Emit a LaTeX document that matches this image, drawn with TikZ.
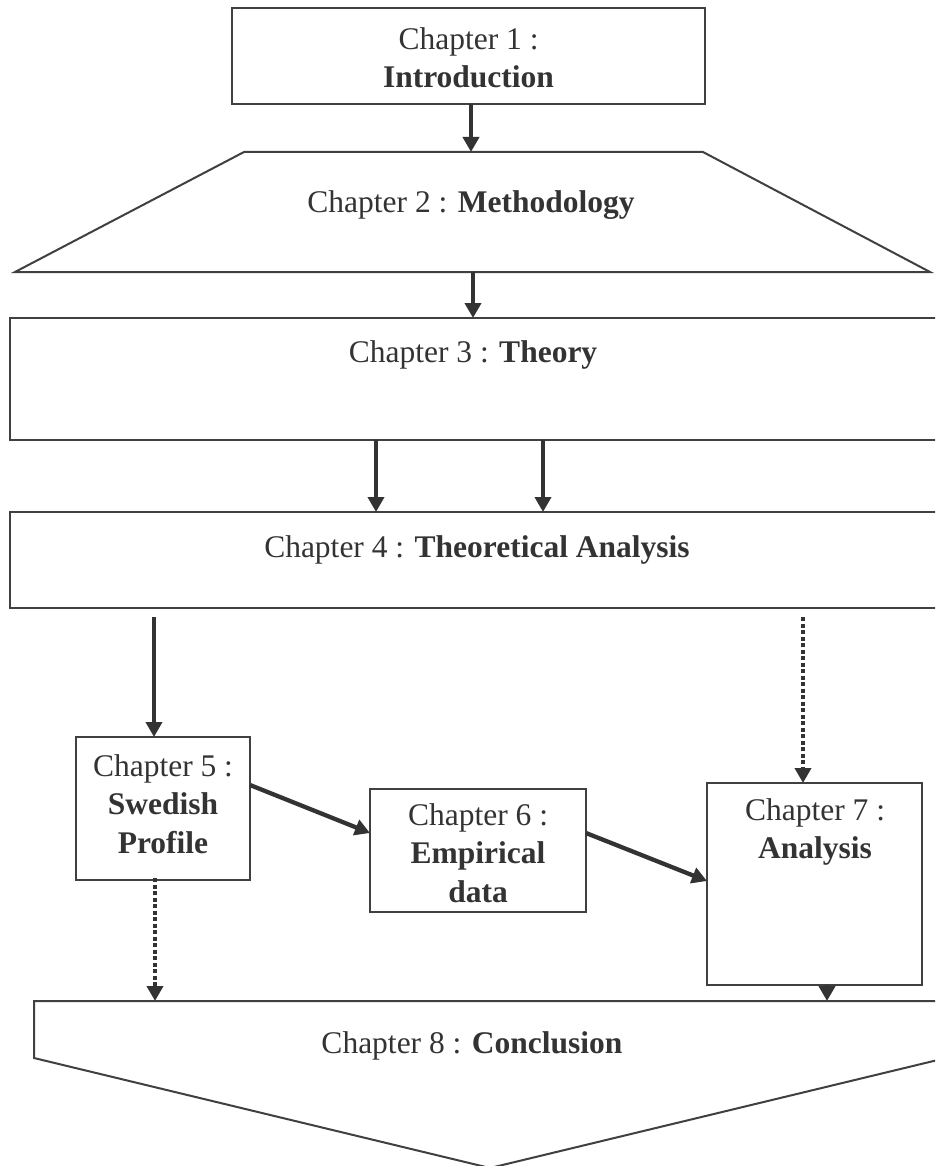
\documentclass[tikz,border=0pt]{standalone}
\usepackage{fontspec}
\setmainfont{Liberation Serif}
\usetikzlibrary{arrows.meta}
\definecolor{linec}{HTML}{404040}
\definecolor{arrc}{HTML}{333333}
\definecolor{txtc}{HTML}{333333}
\begin{document}
\begin{tikzpicture}[x=1pt,y=-1pt,
  box/.style={draw=linec, line width=2pt, inner sep=0pt, outer sep=0pt},
  arr/.style={draw=arrc, line width=4.3pt, -{Triangle[width=16pt,length=15pt]}},
  dotarr/.style={arr, dash pattern=on 4pt off 2.5pt},
  lbl/.style={text=txtc, align=center, inner sep=0pt, font=\fontsize{31.5}{38.5}\selectfont}]
\useasboundingbox (0,0) rectangle (935,1166);
\fill[white] (0,0) rectangle (935,1166);
\clip (0,0) rectangle (935,1166);

% shapes
\node[box, minimum width=473pt, minimum height=96pt] (ch1) at (468.5,56) {};
\coordinate (c2tl) at (244,152);
\coordinate (c2tr) at (703,152);
\coordinate (c2br) at (930,272);
\coordinate (c2bl) at (15,272);
\draw[draw=linec, line width=2pt, line join=miter] (c2tl) -- (c2tr) -- (c2br) -- (c2bl) -- cycle;
\node[box, minimum width=930pt, minimum height=122pt] (ch3) at (475,379) {};
\node[box, minimum width=930pt, minimum height=96pt] (ch4) at (475,560) {};
\node[box, minimum width=174pt, minimum height=143pt] (ch5) at (163,808.5) {};
\node[box, minimum width=216pt, minimum height=123pt] (ch6) at (478,850.5) {};
\node[box, minimum width=215pt, minimum height=202pt] (ch7) at (814.5,884) {};
\coordinate (c8tl) at (34,1001);
\coordinate (c8tr) at (946,1001);
\coordinate (c8r) at (946,1058);
\coordinate (c8b) at (490,1168);
\coordinate (c8l) at (34,1058);
\draw[draw=linec, line width=2pt] (c8tl) -- (c8tr) -- (c8r) -- (c8b) -- (c8l) -- cycle;

% texts
\node[lbl] (t1) at (468.5,58) {Chapter 1 :\\\textbf{Introduction}};
\node[lbl] (t2) at (471,205) {Chapter 2 : \textbf{Methodology}};
\node[lbl] (t3) at (473,355) {Chapter 3 : \textbf{Theory}};
\node[lbl] (t4) at (477,550) {Chapter 4 : \textbf{Theoretical Analysis}};
\node[lbl] (t5) at (163,804) {Chapter 5 :\\\textbf{Swedish}\\\textbf{Profile}};
\node[lbl] (t6) at (478,853) {Chapter 6 :\\\textbf{Empirical}\\\textbf{data}};
\node[lbl] (t7) at (815,832) {Chapter 7 :\\\textbf{Analysis}};
\node[lbl] (t8) at (472,1046) {Chapter 8 : \textbf{Conclusion}};

% connector end points
\coordinate (a1) at (471,152);
\coordinate (a2s) at (473,272);
\coordinate (a4s) at (154,617);
\coordinate (a7s) at (803,617);
\coordinate (a56s) at (250,785);
\coordinate (a56e) at (370,833);
\coordinate (a67s) at (586,833);
\coordinate (a67e) at (707,881);
\coordinate (a58e) at (155,1001);
\coordinate (a78e) at (827,1001);

% connectors
\draw[arr] (ch1.south -| a1) -- (a1);
\draw[arr] (a2s) -- (ch3.north -| a2s);
\draw[arr] ([xshift=-99pt]ch3.south) -- ([xshift=-99pt]ch4.north);
\draw[arr] ([xshift=68pt]ch3.south) -- ([xshift=68pt]ch4.north);
\draw[arr] (a4s) -- (ch5.north -| a4s);
\draw[dotarr] (a7s) -- (ch7.north -| a7s);
\draw[arr] (a56s) -- (a56e);
\draw[arr] (a67s) -- (a67e);
\draw[dotarr] ([yshift=2pt]ch5.south -| a58e) -- (a58e);
\draw[arr] (ch7.south -| a78e) -- (a78e);
\end{tikzpicture}
\end{document}
